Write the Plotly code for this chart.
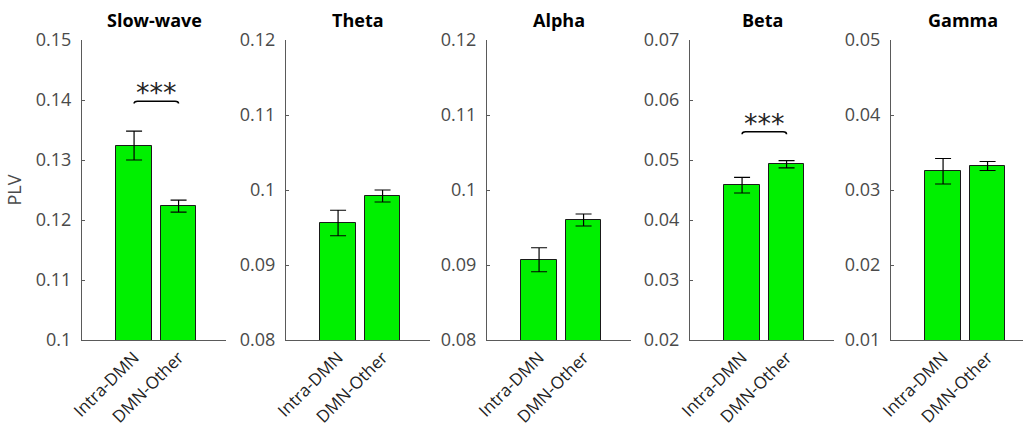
import plotly.graph_objects as go

# Phase-locking values per frequency band
bands = ["Slow-wave", "Theta", "Alpha", "Beta", "Gamma"]
groups = ["Intra-DMN", "DMN-Other"]
plv_intra = [0.1324, 0.0956, 0.0907, 0.0458, 0.0325]
plv_other = [0.1223, 0.0992, 0.0960, 0.0493, 0.0332]
sem_intra = [0.0024, 0.0017, 0.0016, 0.0013, 0.0017]
sem_other = [0.0010, 0.0008, 0.0008, 0.0006, 0.0006]
y_ranges = [(0.10, 0.15), (0.08, 0.12), (0.08, 0.12), (0.02, 0.07), (0.01, 0.05)]
y_dtick = [0.01, 0.01, 0.01, 0.01, 0.01]
# significance markers: band index -> bracket height
significance = {0: (0.1398, "***"), 3: (0.0547, "***")}

W, H = 1023, 429
axis_left_px = [82, 286, 487, 690, 891]
axis_width_px = 144
plot_top_px, plot_bottom_px = 40, 340
px_per_unit = 44.5
x_start = -0.17

BAR_GREEN = "#00f000"
TICK_GRAY = "#4a4a4a"
FONT = "Open Sans, DejaVu Sans, sans-serif"

fig = go.Figure()
annotations = []
shapes = []

for i, band in enumerate(bands):
    n = "" if i == 0 else str(i + 1)
    xa, ya = "x" + n, "y" + n
    x0 = axis_left_px[i] / W
    x1 = min(1.0, (axis_left_px[i] + axis_width_px) / W)
    width_px = (x1 - x0) * W
    x_end = x_start + width_px / px_per_unit

    fig.add_trace(go.Bar(
        x=[1, 2],
        y=[plv_intra[i], plv_other[i]],
        width=0.8,
        marker=dict(color=BAR_GREEN, line=dict(color="#1a1a1a", width=1)),
        error_y=dict(type="data", array=[sem_intra[i], sem_other[i]],
                     color="black", thickness=1.2, width=8),
        xaxis=xa, yaxis=ya, showlegend=False,
    ))

    fig.layout["xaxis" + n] = dict(
        domain=[x0, x1], anchor=ya, range=[x_start, x_end],
        tickmode="array", tickvals=[1, 2], ticktext=groups, tickangle=-45,
        ticks="", showline=True, linecolor="#5a5a5a", linewidth=1,
        showgrid=False, zeroline=False, fixedrange=True, automargin=False,
        tickfont=dict(family=FONT, size=17, color="#222222"),
    )
    lo, hi = y_ranges[i]
    fig.layout["yaxis" + n] = dict(
        domain=[1 - plot_bottom_px / H, 1 - plot_top_px / H], anchor=xa,
        range=[lo, hi], tick0=lo, dtick=y_dtick[i],
        ticks="inside", ticklen=3, tickcolor="#5a5a5a",
        showline=True, linecolor="#5a5a5a", linewidth=1,
        showgrid=False, zeroline=False, fixedrange=True, automargin=False,
        ticklabelstandoff=6,
        tickfont=dict(family=FONT, size=18, color=TICK_GRAY),
    )

    annotations.append(dict(
        text="<b>%s</b>" % band, x=(x0 + (axis_left_px[i] + axis_width_px) / W) / 2,
        y=1 - 20 / H, xref="paper", yref="paper", showarrow=False,
        font=dict(family=FONT, size=18, color="black"),
        xanchor="center", yanchor="middle",
    ))

    if i in significance:
        yb, label = significance[i]
        drop = (hi - lo) * 0.008
        shapes.append(dict(
            type="path", xref=xa, yref=ya,
            path="M 1,%f Q 1,%f 1.08,%f L 1.92,%f Q 2,%f 2,%f" % (
                yb - drop, yb, yb, yb, yb, yb - drop),
            line=dict(color="black", width=1.5),
        ))
        annotations.append(dict(
            text=label, x=1.5, y=yb, xref=xa, yref=ya, showarrow=False,
            yanchor="bottom", xanchor="center", yshift=-9,
            font=dict(family="DejaVu Sans", size=27, color="#222222"),
        ))

fig.layout.yaxis.title = dict(text="PLV", standoff=9,
                              font=dict(family=FONT, size=18, color=TICK_GRAY))

fig.update_layout(
    width=W, height=H,
    margin=dict(l=0, r=0, t=0, b=0, autoexpand=False),
    paper_bgcolor="white", plot_bgcolor="white",
    annotations=annotations, shapes=shapes,
    bargap=0,
)

fig.write_html("out.html")
